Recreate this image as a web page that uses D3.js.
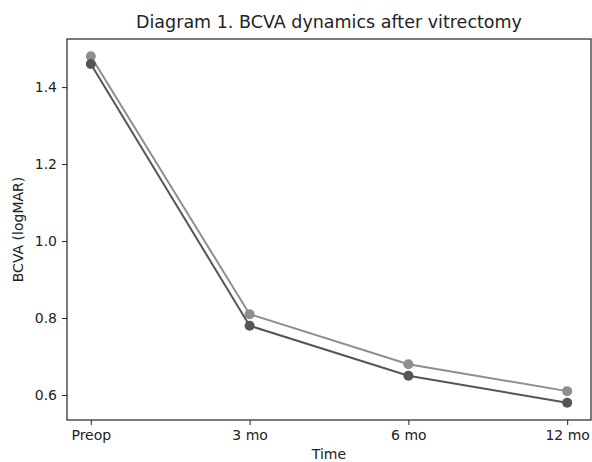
<!DOCTYPE html>
<html>
<head>
<meta charset="utf-8">
<script src="https://cdn.jsdelivr.net/npm/d3@7"></script>
<style>
	body { margin: 0; background: #fff; }
	text { font-family: "DejaVu Sans", sans-serif; fill: #222; }
</style>
</head>
<body>
<div id="chart"></div>
<script>
// DATA
const timepoints = ["Preop", "3 mo", "6 mo", "12 mo"];
const seriesLight = [1.48, 0.81, 0.68, 0.61];
const seriesDark = [1.46, 0.78, 0.65, 0.58];
const yTicks = [0.6, 0.8, 1.0, 1.2, 1.4];

// SVG DIMENSIONS
const width = 592;
const height = 462;
const margin = { top: 39, right: 1, bottom: 42, left: 67 };

const svg = d3.select("#chart")
	.append("svg")
	.attr("width", width)
	.attr("height", height);

// SCALES (matplotlib style 5% padding)
const xIdx = d3.scaleLinear()
	.domain([-0.15, timepoints.length - 1 + 0.15])
	.range([margin.left, width - margin.right]);

const all = seriesLight.concat(seriesDark);
const yMin = d3.min(all), yMax = d3.max(all);
const yPad = (yMax - yMin) * 0.05;
const y = d3.scaleLinear()
	.domain([yMin - yPad, yMax + yPad])
	.range([height - margin.bottom, margin.top]);

// AXES
const xAxis = svg.append("g")
	.attr("transform", `translate(0,${height - margin.bottom})`)
	.call(d3.axisBottom(xIdx)
		.tickValues(d3.range(timepoints.length))
		.tickFormat(i => timepoints[i])
		.tickSize(5)
		.tickPadding(5));

const yAxis = svg.append("g")
	.attr("transform", `translate(${margin.left},0)`)
	.call(d3.axisLeft(y)
		.tickValues(yTicks)
		.tickFormat(d3.format(".1f"))
		.tickSize(5)
		.tickPadding(5));

[xAxis, yAxis].forEach(a => {
	a.select(".domain").remove();
	a.selectAll(".tick line").attr("stroke", "#222").attr("stroke-width", 1);
	a.selectAll(".tick text").style("font-size", "14px").attr("fill", "#222");
});

// frame
svg.append("rect")
	.attr("x", margin.left)
	.attr("y", margin.top)
	.attr("width", width - margin.right - margin.left)
	.attr("height", height - margin.bottom - margin.top)
	.attr("fill", "none")
	.attr("stroke", "#222")
	.attr("stroke-width", 1.2);

// LINES
const line = d3.line()
	.x((d, i) => xIdx(i))
	.y(d => y(d));

const series = [
	{ values: seriesLight, color: "#8e8e8e" },
	{ values: seriesDark, color: "#555555" }
];

series.forEach(s => {
	svg.append("path")
		.datum(s.values)
		.attr("d", line)
		.attr("fill", "none")
		.attr("stroke", s.color)
		.attr("stroke-width", 2);
	svg.append("g")
		.selectAll("circle")
		.data(s.values)
		.enter()
		.append("circle")
			.attr("cx", (d, i) => xIdx(i))
			.attr("cy", d => y(d))
			.attr("r", 5)
			.attr("fill", s.color);
});

// TITLES
const cx = (margin.left + width - margin.right) / 2;
svg.append("text")
	.attr("x", cx)
	.attr("y", 28)
	.attr("text-anchor", "middle")
	.style("font-size", "17.5px")
	.text("Diagram 1. BCVA dynamics after vitrectomy");

svg.append("text")
	.attr("x", cx)
	.attr("y", 459)
	.attr("text-anchor", "middle")
	.style("font-size", "14px")
	.text("Time");

svg.append("text")
	.attr("transform", `translate(23,${(margin.top + height - margin.bottom) / 2}) rotate(-90)`)
	.attr("text-anchor", "middle")
	.style("font-size", "14px")
	.text("BCVA (logMAR)");
</script>
</body>
</html>
